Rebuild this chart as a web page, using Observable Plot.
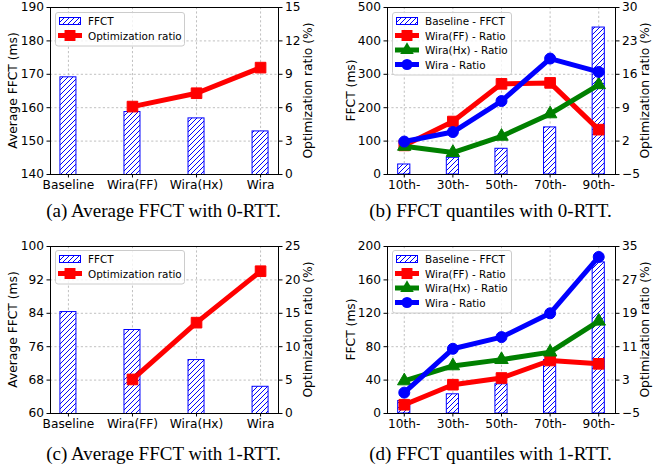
<!DOCTYPE html>
<html>
<head>
<meta charset="utf-8">
<script src="https://cdn.jsdelivr.net/npm/d3@7"></script>
<script src="https://cdn.jsdelivr.net/npm/@observablehq/plot@0.6"></script>
<style>
  html, body { margin: 0; padding: 0; background: #fff; }
  #root { position: relative; width: 654px; height: 470px; background: #fff; overflow: hidden; }
  .panel { position: absolute; }
  .cap { position: absolute; font-family: "Liberation Serif", "Times New Roman", serif; font-size: 19px; line-height: 19px; text-align: center; white-space: nowrap; color: #000; }
  .leg { position: absolute; }
</style>
</head>
<body>
<div id="root"></div>
<script>
// ---------------- data ----------------
const catsAvg = ["Baseline", "Wira(FF)", "Wira(Hx)", "Wira"];
const ffct0 = [169.1, 158.7, 156.8, 152.9];
const ratio0 = [null, 6.1, 7.3, 9.6];
const ffct1 = [84.3, 80.0, 72.8, 66.4];
const ratio1 = [null, 5.1, 13.6, 21.3];

const catsQ = ["10th-", "30th-", "50th-", "70th-", "90th-"];
const base0 = [30, 50, 77, 141, 440];
const ffRatio0 = [1.1, 6.1, 14.0, 14.2, 4.4];
const hxRatio0 = [0.9, -0.4, 3.0, 7.7, 13.8];
const wiraRatio0 = [1.9, 3.9, 10.4, 19.3, 16.5];
const base1 = [15, 23, 35, 64, 181];
const ffRatio1 = [-2.9, 1.9, 3.5, 7.7, 6.9];
const hxRatio1 = [2.8, 6.4, 7.9, 9.7, 17.1];
const wiraRatio1 = [0.0, 10.5, 13.3, 19.0, 32.5];

const leftTicksA0 = [140, 150, 160, 170, 180, 190];
const rightTicksA0 = [0, 3, 6, 9, 12, 15];
const leftTicksA1 = [60, 68, 76, 84, 92, 100];
const rightTicksA1 = [0, 5, 10, 15, 20, 25];
const leftTicksQ0 = [0, 100, 200, 300, 400, 500];
const rightTicksQ0 = [-5, 2, 9, 16, 23, 30];
const leftTicksQ1 = [0, 40, 80, 120, 160, 200];
const rightTicksQ1 = [-5, 3, 11, 19, 27, 35];

const captions = [
  "(a) Average FFCT with 0-RTT.",
  "(b) FFCT quantiles with 0-RTT.",
  "(c) Average FFCT with 1-RTT.",
  "(d) FFCT quantiles with 1-RTT."
];

// ---------------- helpers ----------------
const FONT = "DejaVu Sans";
const root = document.getElementById("root");
const fmt = v => (v < 0 ? "\u2212" + Math.abs(v) : String(v));

function panel(cfg) {
  const {id, left, top, cats, bars, series, yTicks, rTicks, pad, mL, mR,
         leftLabel, rightLabel, leftLabelX, rightLabelX} = cfg;
  const y0 = yTicks[0], y1 = yTicks[yTicks.length - 1];
  const r0 = rTicks[0], r1 = rTicks[rTicks.length - 1];
  const toY = r => y0 + (r - r0) * (y1 - y0) / (r1 - r0);
  const toR = v => Math.round(r0 + (v - y0) * (r1 - r0) / (y1 - y0));
  const idx = cats.map((c, i) => i);
  const barData = bars.map((v, i) => ({i, v}));
  const marks = [
    Plot.gridX(idx, {stroke: "#b0b0b0", strokeOpacity: 1, strokeDasharray: "2.2,2.2", strokeWidth: 0.8}),
    Plot.gridY(yTicks, {stroke: "#b0b0b0", strokeOpacity: 1, strokeDasharray: "2.2,2.2", strokeWidth: 0.8}),
    Plot.rectY(barData, {x1: d => d.i - 0.125, x2: d => d.i + 0.125, y: "v", fill: `url(#hatch-${id})`, stroke: "#0000ff", strokeWidth: 1, clip: true})
  ];
  for (const s of series) {
    const pts = s.values.map((r, i) => ({i, r})).filter(d => d.r != null);
    marks.push(Plot.line(pts, {x: "i", y: d => toY(d.r), stroke: s.color, strokeWidth: 5}));
    marks.push(Plot.dot(pts, {x: "i", y: d => toY(d.r), symbol: s.symbol, r: s.r, fill: s.color, stroke: s.color, strokeWidth: 1}));
  }
  marks.push(
    Plot.frame({stroke: "#000", strokeWidth: 1}),
    Plot.axisX(idx, {tickFormat: i => cats[i], tickSize: 3.5, tickPadding: 2, label: null}),
    Plot.axisY(yTicks, {anchor: "left", tickSize: 3.5, tickPadding: 3, label: null, tickFormat: fmt}),
    Plot.axisY(rTicks.map(toY), {anchor: "right", tickSize: 3.5, tickPadding: 3, label: null, tickFormat: v => fmt(toR(v))})
  );
  const svg = Plot.plot({
    width: 327, height: 200,
    marginLeft: mL, marginRight: mR, marginTop: 7, marginBottom: 26,
    x: {type: "linear", domain: [-pad, cats.length - 1 + pad]},
    y: {type: "linear", domain: [y0, y1]},
    style: {fontFamily: FONT, fontSize: "12.2px", color: "#000", background: "transparent", overflow: "visible"},
    marks
  });
  const s = d3.select(svg);
  const defs = s.insert("defs", ":first-child");
  const pat = defs.append("pattern").attr("id", `hatch-${id}`).attr("patternUnits", "userSpaceOnUse")
    .attr("width", 5).attr("height", 5);
  pat.append("rect").attr("width", 5).attr("height", 5).attr("fill", "#fff");
  pat.append("path").attr("d", "M-1,1 L1,-1 M0,5 L5,0 M4,6 L6,4").attr("stroke", "#0000ff").attr("stroke-width", 1);
  const cy = 7 + (200 - 7 - 26) / 2;
  s.append("text").attr("transform", `translate(${leftLabelX},${cy}) rotate(-90)`)
    .attr("text-anchor", "middle").attr("dominant-baseline", "central")
    .attr("font-family", FONT).attr("font-size", 12.3).attr("fill", "#000").text(leftLabel);
  s.append("text").attr("transform", `translate(${rightLabelX},${cy}) rotate(-90)`)
    .attr("text-anchor", "middle").attr("dominant-baseline", "central")
    .attr("font-family", FONT).attr("font-size", 12.3).attr("fill", "#000").text(rightLabel);
  svg.classList.add("panel");
  svg.style.left = left + "px";
  svg.style.top = top + "px";
  root.appendChild(svg);
}

function legend(cfg) {
  const {left, top, width, items, id} = cfg;
  const rowH = 14.5;
  const height = 9 + rowH * (items.length - 1) + 10;
  const svg = d3.create("svg").attr("class", "leg").attr("width", width + 2).attr("height", height + 2)
    .style("left", left + "px").style("top", top + "px");
  const defs = svg.append("defs");
  const pat = defs.append("pattern").attr("id", `lh-${id}`).attr("patternUnits", "userSpaceOnUse").attr("width", 5).attr("height", 5);
  pat.append("rect").attr("width", 5).attr("height", 5).attr("fill", "#fff");
  pat.append("path").attr("d", "M-1,1 L1,-1 M0,5 L5,0 M4,6 L6,4").attr("stroke", "#0000ff").attr("stroke-width", 1);
  svg.append("rect").attr("x", 0.5).attr("y", 0.5).attr("width", width).attr("height", height)
    .attr("rx", 2.5).attr("fill", "rgba(255,255,255,0.8)").attr("stroke", "#cccccc").attr("stroke-width", 1);
  items.forEach((it, k) => {
    const yc = 9 + k * rowH;
    if (it.type === "bar") {
      svg.append("rect").attr("x", 4.5).attr("y", yc - 3.5).attr("width", 21).attr("height", 7)
        .attr("fill", `url(#lh-${id})`).attr("stroke", "#0000ff").attr("stroke-width", 1);
    } else {
      svg.append("line").attr("x1", 3).attr("x2", 27).attr("y1", yc).attr("y2", yc)
        .attr("stroke", it.color).attr("stroke-width", 5);
      const size = it.symbol === "square" ? 120 : it.symbol === "triangle" ? 80 : 95;
      const sym = it.symbol === "square" ? d3.symbolSquare : it.symbol === "triangle" ? d3.symbolTriangle : d3.symbolCircle;
      svg.append("path").attr("d", d3.symbol(sym, size)()).attr("transform", `translate(15,${yc})`).attr("fill", it.color);
    }
    svg.append("text").attr("x", 33).attr("y", yc).attr("dominant-baseline", "central")
      .attr("font-family", FONT).attr("font-size", 10.4).attr("fill", "#000").text(it.label);
  });
  root.appendChild(svg.node());
}

function caption(text, cx, top) {
  const d = document.createElement("div");
  d.className = "cap";
  d.style.left = (cx - 163.5) + "px";
  d.style.width = "327px";
  d.style.top = top + "px";
  d.textContent = text;
  root.appendChild(d);
}

// ---------------- panels ----------------
const redSq = v => ({values: v, color: "#ff0000", symbol: "square", r: 6});
const greenTri = v => ({values: v, color: "#008000", symbol: "triangle", r: 5});
const blueCirc = v => ({values: v, color: "#0000ff", symbol: "circle", r: 5.5});

panel({id: "a", left: 0, top: 0, cats: catsAvg, bars: ffct0, series: [redSq(ratio0)],
  yTicks: leftTicksA0, rTicks: rightTicksA0, pad: 0.28, mL: 50, mR: 49,
  leftLabel: "Average FFCT (ms)", rightLabel: "Optimization ratio (%)", leftLabelX: 13, rightLabelX: 308});
panel({id: "b", left: 327, top: 0, cats: catsQ, bars: base0,
  series: [redSq(ffRatio0), greenTri(hxRatio0), blueCirc(wiraRatio0)],
  yTicks: leftTicksQ0, rTicks: rightTicksQ0, pad: 0.345, mL: 60, mR: 39,
  leftLabel: "FFCT (ms)", rightLabel: "Optimization ratio (%)", leftLabelX: 24, rightLabelX: 318});
panel({id: "c", left: 0, top: 239, cats: catsAvg, bars: ffct1, series: [redSq(ratio1)],
  yTicks: leftTicksA1, rTicks: rightTicksA1, pad: 0.28, mL: 50, mR: 49,
  leftLabel: "Average FFCT (ms)", rightLabel: "Optimization ratio (%)", leftLabelX: 13, rightLabelX: 308});
panel({id: "d", left: 327, top: 239, cats: catsQ, bars: base1,
  series: [redSq(ffRatio1), greenTri(hxRatio1), blueCirc(wiraRatio1)],
  yTicks: leftTicksQ1, rTicks: rightTicksQ1, pad: 0.345, mL: 60, mR: 39,
  leftLabel: "FFCT (ms)", rightLabel: "Optimization ratio (%)", leftLabelX: 24, rightLabelX: 318});

const legAvg = [
  {type: "bar", label: "FFCT"},
  {type: "line", color: "#ff0000", symbol: "square", label: "Optimization ratio"}
];
const legQ = [
  {type: "bar", label: "Baseline - FFCT"},
  {type: "line", color: "#ff0000", symbol: "square", label: "Wira(FF) - Ratio"},
  {type: "line", color: "#008000", symbol: "triangle", label: "Wira(Hx) - Ratio"},
  {type: "line", color: "#0000ff", symbol: "circle", label: "Wira - Ratio"}
];
legend({id: "la", left: 54.5, top: 11.5, width: 129, items: legAvg});
legend({id: "lb", left: 392, top: 11.5, width: 119, items: legQ});
legend({id: "lc", left: 54.5, top: 250, width: 129, items: legAvg});
legend({id: "ld", left: 392, top: 250, width: 119, items: legQ});

caption(captions[0], 163.5, 201);
caption(captions[1], 490.5, 201);
caption(captions[2], 163.5, 444);
caption(captions[3], 490.5, 444);
</script>
</body>
</html>
